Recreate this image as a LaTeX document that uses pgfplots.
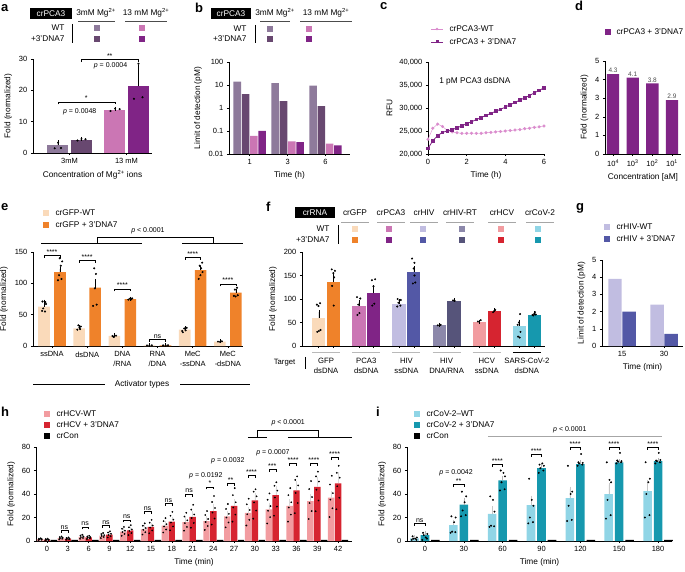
\documentclass[border=0pt]{standalone}
\usepackage{fontspec}
\setmainfont{Liberation Sans}
\usepackage{pgfplots}
\pgfplotsset{compat=1.18}

\definecolor{aWT3}{RGB}{142,122,155}
\definecolor{aDN3}{RGB}{104,72,112}
\definecolor{aWT13}{RGB}{203,118,180}
\definecolor{aDN13}{RGB}{128,36,134}
\definecolor{cW}{RGB}{218,140,205}
\definecolor{gfpW}{RGB}{250,218,186}
\definecolor{gfpD}{RGB}{239,130,42}
\definecolor{hivW}{RGB}{193,189,225}
\definecolor{hivD}{RGB}{83,88,166}
\definecolor{rtW}{RGB}{140,136,170}
\definecolor{rtD}{RGB}{86,84,122}
\definecolor{hcvW}{RGB}{242,156,160}
\definecolor{hcvD}{RGB}{214,36,48}
\definecolor{covW}{RGB}{144,213,230}
\definecolor{covD}{RGB}{22,152,174}

\newcommand{\fs}{\fontsize{7}{8.4}\selectfont}
\newcommand{\ft}{\fontsize{7.5}{9}\selectfont}
\newcommand{\fsl}{\fontsize{8.3}{10}\selectfont}
\newcommand{\plab}[3]{\node[anchor=west, inner sep=0pt, font=\fontsize{13}{15}\selectfont\bfseries] at (#1,#2) {#3};}
\newcommand{\sw}[3]{\fill[#1] ({#2-2.7},{#3-2.7}) rectangle ++(5.4,5.4);}
\newcommand{\brk}[4]{\draw[line width=0.4pt] (axis cs:#1,#3) ++(0pt,-2.5pt) -- (axis cs:#1,#3) -- (axis cs:#2,#3) -- ++(0pt,-2.5pt);
  \path (axis cs:#1,#3) -- node[above, inner sep=0.8pt, font=\fs] {#4} (axis cs:#2,#3);}
\newcommand{\tgt}[2]{\node[anchor=north, align=center, inner sep=0pt, font=\fontsize{7.7}{10}\selectfont] at (axis cs:#1,-25) {#2};}

\pgfplotsset{
  panel/.style={scale only axis, anchor=south west, clip=false,
    axis x line=bottom, axis y line=left,
    axis line style={-, line width=0.5pt, black},
    every tick/.style={black, line width=0.5pt},
    tick align=outside, major tick length=2.2pt,
    tick label style={font=\ft},
    label style={font=\fsl},
    /pgf/number format/assume math mode=true,
    enlargelimits=false},
  dots/.style={only marks, mark=*, mark size=0.8pt, black, forget plot},
  hdots/.style={only marks, mark=*, mark size=0.65pt, black, forget plot},
  barf/.style={ybar, bar shift=0, draw=none, fill=#1},
  eb/.style={/pgfplots/error bars/y dir=plus, /pgfplots/error bars/y explicit,
    /pgfplots/error bars/error mark=-,
    /pgfplots/error bars/error bar style={line width=0.4pt, #1},
    /pgfplots/error bars/error mark options={#1, mark size=2pt, line width=0.4pt}},
}

\begin{document}
\begin{tikzpicture}[x=1pt,y=1pt]
\path[use as bounding box] (0,0) rectangle (685,571);

% ---------------- a
\plab{1}{563}{a}
\node[fill=black, text=white, font=\fsl, minimum width=42pt, minimum height=11pt, inner sep=1pt] at (51,557) {crPCA3};
\node[font=\fsl] at (96,558) {3mM Mg\textsuperscript{2+}};
\draw[black!70, line width=0.5pt] (78,550) -- (115,550);
\node[font=\fsl] at (146,558) {13 mM Mg\textsuperscript{2+}};
\draw[black!70, line width=0.5pt] (125,550) -- (167,550);
\node[font=\fsl, anchor=east] at (68,543) {WT};
\node[font=\fsl, anchor=east] at (68,532) {+3’DNA7};
\draw[line width=0.4pt] (72,547) -- (72,528);
\sw{aWT3}{97}{543} \sw{aDN3}{97}{532} \sw{aWT13}{142}{543} \sw{aDN13}{142}{532}

\begin{axis}[panel, at={(33pt,418pt)}, width=119pt, height=94pt,
  xmin=-0.64, xmax=1.447, ymin=0, ymax=30, ytick={0,10,20,30},
  xtick={0,1}, xticklabels={3mM,13 mM},
  xlabel={Concentration of Mg\textsuperscript{2+} ions}, ylabel={Fold (normalized)}]
\addplot[barf=aWT3, bar width=0.37, eb=black] coordinates {(-0.206,2.4) +- (0,1.0)};
\addplot[barf=aDN3, bar width=0.37, eb=black] coordinates {(0.206,4.3) +- (0,0.2)};
\addplot[barf=aWT13, bar width=0.37, eb=black] coordinates {(0.794,13.8) +- (0,0.3)};
\addplot[barf=aDN13, bar width=0.37, eb=black] coordinates {(1.206,21.3) +- (0,6.2)};
\addplot[dots] coordinates {(-0.26,1.5) (-0.15,1.6) (-0.2,3.3) (0.14,4.0) (0.21,4.5) (0.28,4.4)
  (0.72,13.4) (0.8,14.2) (0.88,14.0) (1.13,17.3) (1.28,17.8) (1.21,28.5)};
\brk{-0.206}{0.794}{16.3}{*}
\brk{0.206}{1.206}{29.8}{**}
\node[font=\fs] at (axis cs:0.18,13.1) {\textit{p} = 0.0048};
\node[font=\fs] at (axis cs:0.72,27.9) {\textit{p} = 0.0004};
\end{axis}

% ---------------- b
\plab{195}{563}{b}
\node[fill=black, text=white, font=\fsl, minimum width=40pt, minimum height=11pt, inner sep=1pt] at (231,557) {crPCA3};
\node[font=\fsl] at (275,558) {3mM Mg\textsuperscript{2+}};
\draw[black!70, line width=0.5pt] (260,550) -- (290,550);
\node[font=\fsl] at (326,558) {13 mM Mg\textsuperscript{2+}};
\draw[black!70, line width=0.5pt] (300,550) -- (352,550);
\node[font=\fsl, anchor=east] at (250,542) {WT};
\node[font=\fsl, anchor=east] at (250,532) {+3’DNA7};
\draw[line width=0.4pt] (255,546) -- (255,528);
\sw{aWT3}{270}{542} \sw{aDN3}{270}{532} \sw{aWT13}{309}{542} \sw{aDN13}{309}{532}

\begin{axis}[panel, at={(229pt,417pt)}, width=121pt, height=92pt,
  ymode=log, log origin=infty, ymin=0.01, ymax=100,
  ytick={0.01,0.1,1,10,100}, yticklabels={0.01,0.1,1,10,100}, yminorticks=false,
  xmin=-0.546, xmax=2.646, xtick={0,1,2}, xticklabels={1,3,6},
  xlabel={Time (h)}, ylabel={Limit of detection (pM)}]
\addplot[barf=aWT3, bar width=0.2] coordinates {(-0.328,14) (0.672,12) (1.672,9.5)};
\addplot[barf=aDN3, bar width=0.2] coordinates {(-0.109,4) (0.891,2) (1.891,1.2)};
\addplot[barf=aWT13, bar width=0.2] coordinates {(0.109,0.062) (1.109,0.035) (2.109,0.028)};
\addplot[barf=aDN13, bar width=0.2] coordinates {(0.328,0.1) (1.328,0.033) (2.328,0.024)};
\end{axis}

% ---------------- c
\plab{380}{565}{c}
\draw[cW, line width=0.4pt] (431,542) -- (443,542); \fill[cW] (437,542) circle (1.4pt);
\node[font=\fsl, anchor=west] at (446,542) {crPCA3-WT};
\draw[aDN13, line width=0.8pt] (431,529) -- (443,529); \fill[aDN13] (435.5,527.5) rectangle ++(3,3);
\node[font=\fsl, anchor=west] at (446,529) {crPCA3 + 3’DNA7};

\begin{axis}[panel, at={(428pt,417pt)}, width=116pt, height=92pt,
  xmin=0, xmax=6, ymin=20000, ymax=40000, ytick={20000,25000,30000,35000,40000},
  scaled y ticks=false, yticklabel style={/pgf/number format/.cd, fixed, 1000 sep={,}},
  xtick={0,2,4,6}, xlabel={Time (h)}, ylabel={RFU}]
\addplot[cW, line width=0.4pt, mark=*, mark size=1.35pt] coordinates {
 (0,23200) (0.25,25600) (0.5,26500) (0.75,26000) (1.0,25100) (1.25,24800) (1.5,24600) (1.75,24500)
 (2.0,24500) (2.25,24500) (2.5,24500) (2.75,24500) (3.0,24600) (3.25,24700) (3.5,24800) (3.75,24900)
 (4.0,25000) (4.25,25100) (4.5,25200) (4.75,25300) (5.0,25500) (5.25,25600) (5.5,25800) (5.75,25900) (6.0,26100)};
\addplot[aDN13, line width=0.8pt, mark=square*, mark size=1.35pt] coordinates {
 (0,21200) (0.25,22900) (0.5,24000) (0.75,24700) (1.0,25000) (1.25,25300) (1.5,25700) (1.75,26100)
 (2.0,26600) (2.25,27000) (2.5,27500) (2.75,27900) (3.0,28400) (3.25,28800) (3.5,29300) (3.75,29700)
 (4.0,30200) (4.25,30700) (4.5,31200) (4.75,31700) (5.0,32200) (5.25,32700) (5.5,33300) (5.75,33800) (6.0,34400)};
\node[font=\fsl, anchor=west] at (axis cs:0.4,35900) {1 pM PCA3 dsDNA};
\end{axis}

% ---------------- d
\plab{575}{565}{d}
\sw{aDN13}{608}{539}
\node[font=\fsl, anchor=west] at (613,539) {crPCA3 + 3’DNA7};
\begin{axis}[panel, at={(605pt,417pt)}, width=76pt, height=93pt,
  xmin=-0.41, xmax=3.46, ymin=0, ymax=5, ytick={0,1,2,3,4,5},
  xtick={0,1,2,3}, xticklabels={10\textsuperscript{4},10\textsuperscript{3},10\textsuperscript{2},10\textsuperscript{1}},
  xlabel={Concentration [aM]}, ylabel={Fold (normalized)}]
\addplot[barf=aDN13, bar width=0.63, point meta=explicit symbolic, nodes near coords,
  nodes near coords style={font=\fontsize{6.5}{7}\selectfont, text=black!70, inner sep=1pt}]
  coordinates {(0,4.3) [4.3] (1,4.1) [4.1] (2,3.8) [3.8] (3,2.9) [2.9]};
\end{axis}

% ---------------- e
\plab{1}{364}{e}
\sw{gfpW}{46}{358} \node[font=\fsl, anchor=west] at (52,358) {crGFP-WT};
\sw{gfpD}{46}{346} \node[font=\fsl, anchor=west] at (52,346) {crGFP + 3’DNA7};
\draw[line width=0.4pt] (41,328) -- (142,328);
\draw[line width=0.4pt] (182,328) -- (243,328);
\draw[line width=0.4pt] (97,328) -- (97,334) -- (213,334) -- (213,328);
\node[font=\fs] at (148,340) {\textit{p} < 0.0001};
\node[font=\fsl] at (142,187) {Activator types};
\draw[line width=0.4pt] (33,187) -- (105,187);
\draw[line width=0.4pt] (180,187) -- (250,187);

\begin{axis}[panel, at={(33pt,225pt)}, width=210pt, height=94pt,
  xmin=-0.54, xmax=5.43, ymin=0, ymax=150, ytick={0,50,100,150},
  xtick={0,1,2,3,4,5},
  xticklabels={ssDNA,dsDNA,{DNA\\/RNA},{RNA\\/DNA},{MeC\\-ssDNA},{MeC\\-dsDNA}},
  xticklabel style={align=center, font=\fontsize{7.5}{9.2}\selectfont},
  ylabel={Fold (normalized)}]
\addplot[barf=gfpW, bar width=0.33, eb=black] coordinates {
 (-0.227,63) +- (0,8) (0.773,28) +- (0,2) (1.773,16) +- (0,1) (2.773,1) +- (0,0) (3.773,26) +- (0,2) (4.773,7) +- (0,0.5)};
\addplot[barf=gfpD, bar width=0.33, eb=black] coordinates {
 (0.227,118) +- (0,5) (1.227,93) +- (0,10) (2.227,75) +- (0,0.6) (3.227,1) +- (0,0) (4.227,121) +- (0,4) (5.227,85) +- (0,3)};
\addplot[dots] coordinates {
 (-0.28,56) (-0.2,55) (-0.25,60) (-0.17,67) (-0.27,71) (-0.19,70)
 (0.17,105) (0.27,107) (0.2,113) (0.25,128) (0.29,135) (0.22,140)
 (0.72,26) (0.78,29) (0.82,31) (0.75,33) (0.8,27)
 (1.17,64) (1.27,66) (1.22,92) (1.25,115) (1.2,124)
 (1.72,16) (1.77,15) (1.82,16.5) (1.75,14.5)
 (2.17,74) (2.22,75.5) (2.28,76) (2.25,74.5)
 (2.7,1) (2.77,1) (2.84,1.2) (3.16,1) (3.23,1) (3.3,1.2)
 (3.72,22) (3.8,25) (3.83,29) (3.76,28) (3.7,24)
 (4.17,107) (4.22,113) (4.28,118) (4.2,128) (4.27,133) (4.24,124)
 (4.72,7) (4.78,6.5) (4.83,7.5)
 (5.17,80) (5.22,79) (5.28,81) (5.2,90) (5.26,93)};
\brk{-0.227}{0.227}{145}{****}
\brk{0.773}{1.227}{137}{****}
\brk{1.773}{2.227}{91}{****}
\brk{2.773}{3.227}{11}{ns}
\brk{3.773}{4.227}{142}{****}
\brk{4.773}{5.227}{99}{****}
\end{axis}

% ---------------- f
\plab{266}{364}{f}
\node[fill=black, text=white, font=\fsl, minimum width=40pt, minimum height=11pt, inner sep=1pt] at (315,358) {crRNA};
\foreach \x/\t in {355/crGFP, 391/crPCA3, 424/crHIV, 460/crHIV-RT, 502/crHCV, 540/crCoV-2}{
  \node[font=\fsl] at (\x,358) {\t};
  \draw[gray!70, line width=0.6pt] ({\x-14},349) -- ({\x+14},349);}
\node[font=\fsl, anchor=east] at (333,342) {WT};
\node[font=\fsl, anchor=east] at (333,331) {+3’DNA7};
\draw[line width=0.4pt] (338,346) -- (338,327);
\sw{gfpW}{355}{342} \sw{gfpD}{355}{331}
\sw{aWT13}{389}{342} \sw{aDN13}{389}{331}
\sw{hivW}{423}{342} \sw{hivD}{423}{331}
\sw{rtW}{462}{342} \sw{rtD}{462}{331}
\sw{hcvW}{501}{342} \sw{hcvD}{501}{331}
\sw{covW}{538}{342} \sw{covD}{538}{331}

\begin{axis}[panel, at={(302pt,225pt)}, width=243pt, height=94pt,
  xmin=-0.6, xmax=5.45, ymin=0, ymax=200, ytick={0,50,100,150,200},
  xtick={-0.184,0.184,0.816,1.184,1.816,2.184,2.816,3.184,3.816,4.184,4.816,5.184}, xticklabels={},
  ylabel={Fold (normalized)}]
\addplot[barf=gfpW, bar width=0.33, eb=black] coordinates {(-0.184,60) +- (0,12)};
\addplot[barf=gfpD, bar width=0.33, eb=black] coordinates {(0.184,137) +- (0,11)};
\addplot[barf=aWT13, bar width=0.33, eb=black] coordinates {(0.816,85) +- (0,8)};
\addplot[barf=aDN13, bar width=0.33, eb=black] coordinates {(1.184,113) +- (0,12)};
\addplot[barf=hivW, bar width=0.33, eb=black] coordinates {(1.816,90) +- (0,5)};
\addplot[barf=hivD, bar width=0.33, eb=black] coordinates {(2.184,157) +- (0,8)};
\addplot[barf=rtW, bar width=0.33, eb=black] coordinates {(2.816,44) +- (0,1)};
\addplot[barf=rtD, bar width=0.33, eb=black] coordinates {(3.184,95) +- (0,2)};
\addplot[barf=hcvW, bar width=0.33, eb=black] coordinates {(3.816,50) +- (0,2)};
\addplot[barf=hcvD, bar width=0.33, eb=black] coordinates {(4.184,74) +- (0,2)};
\addplot[barf=covW, bar width=0.33, eb=black] coordinates {(4.816,43) +- (0,9)};
\addplot[barf=covD, bar width=0.33, eb=black] coordinates {(5.184,67) +- (0,3)};
\addplot[dots] coordinates {
 (-0.23,88) (-0.15,91) (-0.19,85) (-0.22,30) (-0.14,34) (-0.18,32)
 (0.14,163) (0.22,160) (0.18,155) (0.2,146) (0.15,128) (0.19,86)
 (0.77,104) (0.85,101) (0.8,88) (0.83,70) (0.78,66)
 (1.14,140) (1.22,142) (1.18,127) (1.2,90) (1.15,86)
 (1.77,84) (1.85,86) (1.8,92) (1.83,97) (1.78,100) (1.86,98)
 (2.14,186) (2.2,177) (2.18,165) (2.22,135) (2.16,133) (2.2,150)
 (2.78,44) (2.85,45) (3.16,97) (3.2,96)
 (3.78,52) (3.85,55) (4.16,72) (4.21,77) (4.19,75)
 (4.83,68) (4.8,50) (4.77,45) (4.84,30) (4.78,20) (4.82,18)
 (5.14,66) (5.18,68) (5.22,67) (5.2,72) (5.16,65)};
\draw[gray!55, line width=1pt] (axis cs:-0.35,-13) -- (axis cs:0.35,-13);
\draw[gray!55, line width=1pt] (axis cs:0.65,-13) -- (axis cs:1.35,-13);
\draw[gray!55, line width=1pt] (axis cs:1.65,-13) -- (axis cs:2.35,-13);
\draw[gray!55, line width=1pt] (axis cs:2.65,-13) -- (axis cs:3.35,-13);
\draw[gray!55, line width=1pt] (axis cs:3.65,-13) -- (axis cs:4.35,-13);
\draw[black, line width=0.5pt] (axis cs:4.65,-13) -- (axis cs:5.35,-13);
\tgt{0}{GFP\\dsDNA}
\tgt{1}{PCA3\\dsDNA}
\tgt{2}{HIV\\ssDNA}
\tgt{3}{HIV\\DNA/RNA}
\tgt{4}{HCV\\ssDNA}
\tgt{5}{SARS-CoV-2\\dsDNA}
\node[anchor=east, font=\fontsize{7.7}{9}\selectfont] at (axis cs:-0.68,-36) {Target};
\draw[line width=0.4pt] (axis cs:-0.52,-23) -- (axis cs:-0.52,-49);
\end{axis}

% ---------------- g
\plab{576}{363}{g}
\sw{hivW}{607}{344} \node[font=\fsl, anchor=west] at (613,344) {crHIV-WT};
\sw{hivD}{607}{332} \node[font=\fsl, anchor=west] at (613,332) {crHIV + 3’DNA7};
\begin{axis}[panel, at={(602pt,225pt)}, width=81pt, height=86pt,
  xmin=-0.476, xmax=1.45, ymin=0, ymax=5, ytick={0,1,2,3,4,5},
  xtick={0,1}, xticklabels={15,30},
  xlabel={Time (min)}, ylabel={Limit of detection (pM)}]
\addplot[barf=hivW, bar width=0.32] coordinates {(-0.167,3.9) (0.833,2.4)};
\addplot[barf=hivD, bar width=0.32] coordinates {(0.167,2.0) (1.167,0.7)};
\end{axis}

% ---------------- h
\plab{1}{159}{h}
\sw{hcvW}{47}{157} \node[font=\fsl, anchor=west] at (53,157) {crHCV-WT};
\sw{hcvD}{47}{146} \node[font=\fsl, anchor=west] at (53,146) {crHCV + 3’DNA7};
\sw{black}{47}{135} \node[font=\fsl, anchor=west] at (53,135) {crCon};
\begin{axis}[panel, at={(36pt,30pt)}, width=316pt, height=94pt,
  xmin=-0.53, xmax=14.67, ymin=0, ymax=80, ytick={0,20,40,60,80},
  xtick={0,...,14}, xticklabels={0,3,6,9,12,15,18,21,24,27,30,33,36,39,42},
  xlabel={Time (min)}, ylabel={Fold (normalized)}]
\addplot[barf=hcvW, bar width=0.31, eb=gray!30] coordinates {
 (-0.33,1.5) +- (0,0.5) (0.67,2.5) +- (0,0.8) (1.67,3.5) +- (0,1) (2.67,4.5) +- (0,1.2) (3.67,8) +- (0,1.5)
 (4.67,10) +- (0,1.5) (5.67,13) +- (0,2) (6.67,16) +- (0,2.5) (7.67,17) +- (0,2.5) (8.67,21) +- (0,3)
 (9.67,24) +- (0,3) (10.67,27) +- (0,4) (11.67,30) +- (0,4) (12.67,34) +- (0,4) (13.67,37) +- (0,4)};
\addplot[barf=hcvD, bar width=0.31, eb=gray!30] coordinates {
 (0,1.2) +- (0,0.3) (1,2.0) +- (0,0.5) (2,3.0) +- (0,0.8) (3,5.5) +- (0,1) (4,9) +- (0,1.5)
 (5,12) +- (0,2) (6,16.5) +- (0,2.5) (7,20.5) +- (0,3) (8,25.5) +- (0,4) (9,30) +- (0,4)
 (10,34.5) +- (0,5) (11,39) +- (0,6) (12,43) +- (0,6) (13,46) +- (0,7) (14,49) +- (0,8)};
\addplot[barf=black, bar width=0.31] coordinates {
 (0.33,0.9) (1.33,0.9) (2.33,0.9) (3.33,0.9) (4.33,0.9) (5.33,0.9) (6.33,0.9) (7.33,0.9) (8.33,0.9) (9.33,0.9) (10.33,0.9) (11.33,0.9) (12.33,0.9) (13.33,0.9) (14.33,0.9)};
\addplot[hdots] coordinates {
 (-0.41,0.8) (-0.27,1.1) (-0.37,1.4) (-0.25,1.7) (-0.39,2.0) (-0.30,2.3)
 (0.59,1.4) (0.73,1.9) (0.63,2.4) (0.75,2.8) (0.61,3.3) (0.70,3.8)
 (1.59,1.9) (1.73,2.6) (1.63,3.3) (1.75,3.9) (1.61,4.6) (1.70,5.3)
 (2.59,2.5) (2.73,3.4) (2.63,4.3) (2.75,5.0) (2.61,5.9) (2.70,6.8)
 (3.59,4.4) (3.73,6.0) (3.63,7.6) (3.75,8.8) (3.61,10.4) (3.70,12.0)
 (4.59,5.5) (4.73,7.5) (4.63,9.5) (4.75,11) (4.61,13) (4.70,15)
 (5.59,7.2) (5.73,9.8) (5.63,12.4) (5.75,14.3) (5.61,16.9) (5.70,19.5)
 (6.59,8.8) (6.73,12) (6.63,15.2) (6.75,17.6) (6.61,20.8) (6.70,24)
 (7.59,9.4) (7.73,12.8) (7.63,16.2) (7.75,18.7) (7.61,22.1) (7.70,25.5)
 (8.59,11.6) (8.73,15.8) (8.63,20) (8.75,23.1) (8.61,27.3) (8.70,31.5)
 (9.59,13.2) (9.73,18) (9.63,22.8) (9.75,26.4) (9.61,31.2) (9.70,36)
 (10.59,14.9) (10.73,20.3) (10.63,25.7) (10.75,29.7) (10.61,35.1) (10.70,40.5)
 (11.59,16.5) (11.73,22.5) (11.63,28.5) (11.75,33) (11.61,39) (11.70,45)
 (12.59,18.7) (12.73,25.5) (12.63,32.3) (12.75,37.4) (12.61,44.2) (12.70,51)
 (13.59,20.4) (13.73,27.8) (13.63,35.2) (13.75,40.7) (13.61,48.1) (13.70,55.5)};
\addplot[hdots] coordinates {
 (-0.08,0.7) (0.06,0.9) (-0.04,1.1) (0.08,1.3) (-0.06,1.6) (0.03,1.8)
 (0.92,1.1) (1.06,1.5) (0.96,1.9) (1.08,2.2) (0.94,2.6) (1.03,3.0)
 (1.92,1.7) (2.06,2.3) (1.96,2.9) (2.08,3.3) (1.94,3.9) (2.03,4.5)
 (2.92,3.0) (3.06,4.1) (2.96,5.2) (3.08,6.1) (2.94,7.2) (3.03,8.3)
 (3.92,5.0) (4.06,6.8) (3.96,8.6) (4.08,9.9) (3.94,11.7) (4.03,13.5)
 (4.92,6.6) (5.06,9) (4.96,11.4) (5.08,13.2) (4.94,15.6) (5.03,18)
 (5.92,9.1) (6.06,12.4) (5.96,15.7) (6.08,18.2) (5.94,21.5) (6.03,24.8)
 (6.92,11.3) (7.06,15.4) (6.96,19.5) (7.08,22.6) (6.94,26.7) (7.03,30.8)
 (7.92,14) (8.06,19.1) (7.96,24.2) (8.08,28.1) (7.94,33.2) (8.03,38.3)
 (8.92,16.5) (9.06,22.5) (8.96,28.5) (9.08,33) (8.94,39) (9.03,45)
 (9.92,19) (10.06,25.9) (9.96,32.8) (10.08,38) (9.94,42) (10.03,44)
 (10.92,21.5) (11.06,29.3) (10.96,37) (11.08,42.9) (10.94,47) (11.03,50)
 (11.92,23.7) (12.06,32.3) (11.96,40.9) (12.08,47.3) (11.94,52) (12.03,55)
 (12.92,25.3) (13.06,34.5) (12.96,43.7) (13.08,50.6) (12.94,55) (13.03,59)
 (13.92,27) (14.06,36.8) (13.96,46.6) (14.08,53.9) (13.94,58) (14.03,64)};
\brk{0.67}{1}{9}{ns}
\brk{1.67}{2}{12}{ns}
\brk{2.67}{3}{13.5}{ns}
\brk{3.67}{4}{18}{ns}
\brk{4.67}{5}{25}{ns}
\brk{5.67}{6}{32}{ns}
\brk{6.67}{7}{40}{ns}
\brk{7.67}{8}{46}{*}
\brk{8.67}{9}{49}{**}
\brk{9.67}{10}{56}{****}
\brk{10.67}{11}{61}{***}
\brk{11.67}{12}{66}{****}
\brk{12.67}{13}{66}{****}
\brk{13.67}{14}{71}{****}
\node[font=\fs] at (axis cs:7.64,55.3) {\textit{p} = 0.0192};
\node[font=\fs] at (axis cs:8.7,68) {\textit{p} = 0.0032};
\node[font=\fs] at (axis cs:10.87,75) {\textit{p} = 0.0007};
\draw[line width=0.4pt] (axis cs:9.66,88.5) -- (axis cs:10.58,88.5);
\draw[line width=0.4pt] (axis cs:11.59,88.5) -- (axis cs:14.67,88.5);
\draw[line width=0.4pt] (axis cs:10.1,88.5) -- (axis cs:10.1,94.5) -- (axis cs:13.03,94.5) -- (axis cs:13.03,88.5);
\node[font=\fs] at (axis cs:11.6,100.5) {\textit{p} < 0.0001};
\end{axis}

% ---------------- i
\plab{376}{159}{i}
\sw{covW}{417}{157} \node[font=\fsl, anchor=west] at (423,157) {crCoV-2–WT};
\sw{covD}{417}{146} \node[font=\fsl, anchor=west] at (423,146) {crCoV-2 + 3’DNA7};
\sw{black}{417}{135} \node[font=\fsl, anchor=west] at (423,135) {crCon};
\begin{axis}[panel, at={(407pt,30pt)}, width=265pt, height=94pt,
  xmin=-0.463, xmax=6.36, ymin=0, ymax=80, ytick={0,20,40,60,80},
  xtick={0,...,6}, xticklabels={0,30,60,90,120,150,180},
  xlabel={Time (min)}, ylabel={Fold (normalized)}]
\addplot[barf=covW, bar width=0.22, eb=gray!45] coordinates {
 (-0.27,2.2) +- (0,1.3) (0.73,13.5) +- (0,3) (1.73,23) +- (0,5) (2.73,30.5) +- (0,6.5) (3.73,36.5) +- (0,8) (4.73,40) +- (0,8) (5.73,42.5) +- (0,7.5)};
\addplot[barf=covD, bar width=0.22, eb=gray!60] coordinates {
 (0,5) +- (0,2) (1,31) +- (0,4) (2,51.5) +- (0,2.5) (3,62) +- (0,1.5) (4,65.5) +- (0,1.5) (5,67) +- (0,1) (6,68) +- (0,1)};
\addplot[barf=black, bar width=0.22] coordinates {
 (0.27,1) (1.27,1) (2.27,1) (3.27,1) (4.27,1) (5.27,1) (6.27,1)};
\addplot[hdots, mark size=0.75pt] coordinates {
 (-0.34,1) (-0.22,1) (-0.30,2) (-0.21,3) (-0.32,4) (-0.25,2)
 (0.66,7) (0.78,7.5) (0.70,8) (0.79,20) (0.68,21) (0.75,16)
 (1.66,12) (1.78,12.5) (1.70,13) (1.79,25) (1.68,38) (1.75,35)
 (2.66,15) (2.78,16) (2.70,20) (2.79,30) (2.68,53) (2.75,35)
 (3.66,17) (3.78,18) (3.70,30) (3.79,42) (3.68,64) (3.75,40)
 (4.66,19) (4.78,22) (4.70,35) (4.79,50) (4.68,67) (4.75,52)
 (5.66,20) (5.78,22) (5.70,40) (5.79,53) (5.68,67) (5.75,50)};
\addplot[hdots, mark size=0.75pt] coordinates {
 (-0.07,1) (0.05,2) (-0.03,5) (0.06,6) (-0.05,7) (0.02,3)
 (0.93,21) (1.05,22) (0.97,26) (1.06,38) (0.95,42) (1.02,33)
 (1.93,43) (2.05,44) (1.97,50) (2.06,55) (1.95,60) (2.02,58)
 (2.93,58) (3.05,60) (2.97,62) (3.06,64) (2.95,65) (3.02,66)
 (3.93,64) (4.05,65) (3.97,66) (4.06,66.5) (3.95,67) (4.02,74)
 (4.93,66) (5.05,67) (4.97,67.5) (5.06,68) (4.95,68.5) (5.02,75)
 (5.93,66) (6.05,67) (5.97,68) (6.06,69) (5.95,68.5) (6.02,75)};
\brk{-0.27}{0}{15}{ns}
\brk{0.73}{1}{48}{**}
\brk{1.73}{2}{65}{****}
\brk{2.73}{3}{74}{****}
\brk{3.73}{4}{80}{****}
\brk{4.73}{5}{80}{****}
\brk{5.73}{6}{80}{****}
\node[font=\fs] at (axis cs:0.8,58) {\textit{p} = 0.0042};
\draw[gray!70, line width=0.9pt] (axis cs:1.62,89.4) -- (axis cs:6.09,89.4);
\node[font=\fs] at (axis cs:3.73,94.5) {\textit{p} < 0.0001};
\end{axis}
\end{tikzpicture}
\end{document}
